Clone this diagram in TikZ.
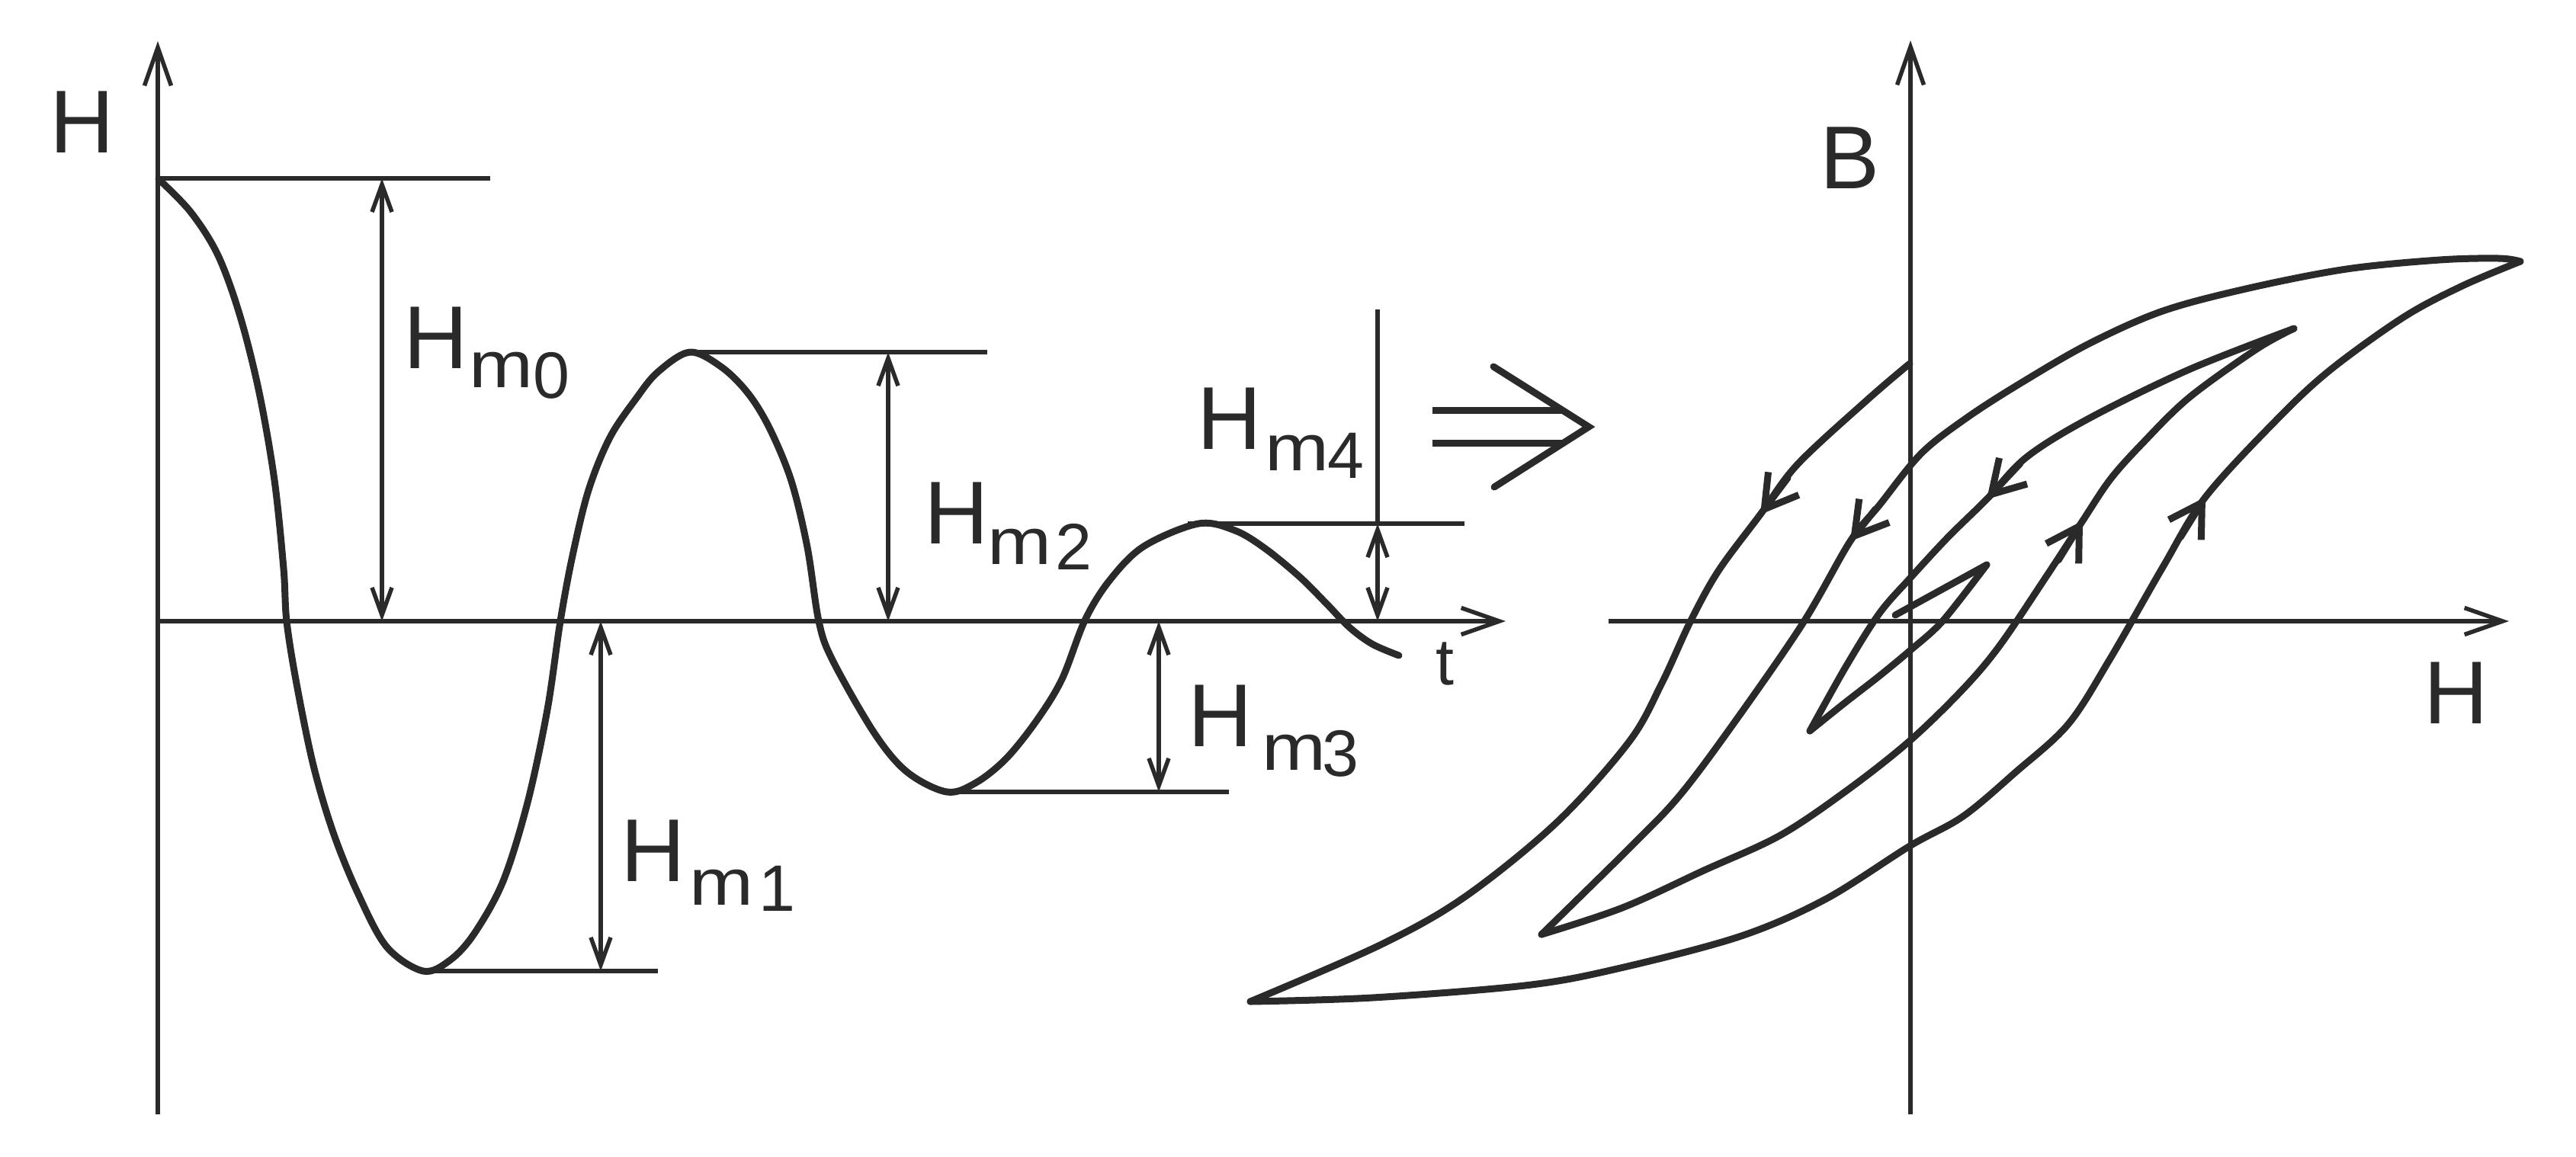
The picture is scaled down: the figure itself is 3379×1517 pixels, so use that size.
\documentclass[tikz,border=0pt]{standalone}
\usepackage{fontspec}
\setmainfont{Liberation Sans}
\usetikzlibrary{arrows.meta}
\definecolor{ink}{HTML}{2A2A2A}
\tikzset{
  thinln/.style={line width=0.055cm, draw=ink},
  curveln/.style={line width=0.09cm, draw=ink, line cap=round, line join=round},
  axisarrow/.style={thinln, -{Straight Barb[length=0.5cm,width=0.35cm]}},
  dimarrow/.style={thinln, {Straight Barb[length=0.36cm,width=0.26cm]}-{Straight Barb[length=0.36cm,width=0.26cm]}},
  hyarrow/.style={curveln, -{Straight Barb[length=0.42cm,width=0.5cm]}},
  bigtxt/.style={inner sep=0pt, outer sep=0pt, anchor=base west, text=ink, font=\fontsize{33.3pt}{36pt}\selectfont},
  subtxt/.style={inner sep=0pt, outer sep=0pt, anchor=base west, text=ink, font=\fontsize{24.5pt}{27pt}\selectfont},
}
\newcommand{\wm}{\scalebox{1.17}[1]{m}}
\begin{document}
\begin{tikzpicture}[x=0.01cm, y=-0.01cm]
\useasboundingbox (0,0) rectangle (3379,1517);

% ---------- left diagram: H(t) ----------
\coordinate (LyB) at (207,1462);
\coordinate (LyT) at (207,54);
\coordinate (LxL) at (207,815);
\coordinate (LxR) at (1975,815);
\draw[axisarrow] (LyB) -- (LyT);
\draw[axisarrow] (LxL) -- (LxR);

% reference lines
\coordinate (P0) at (207,234);   \coordinate (P0e) at (643,234);
\coordinate (P1) at (555,1274);  \coordinate (P1e) at (863,1274);
\coordinate (P2) at (905,462);   \coordinate (P2e) at (1295,462);
\coordinate (P3) at (1242,1039); \coordinate (P3e) at (1612,1039);
\coordinate (P4) at (1558,687);  \coordinate (P4e) at (1921,687);
\draw[thinln] (P0) -- (P0e);
\draw[thinln] (P1) -- (P1e);
\draw[thinln] (P2) -- (P2e);
\draw[thinln] (P3) -- (P3e);
\draw[thinln] (P4) -- (P4e);

% dimension arrows
\coordinate (D0a) at (501,234);   \coordinate (D0b) at (501,815);
\coordinate (D1a) at (788,815);   \coordinate (D1b) at (788,1274);
\coordinate (D2a) at (1165,462);  \coordinate (D2b) at (1165,815);
\coordinate (D3a) at (1520,815);  \coordinate (D3b) at (1520,1039);
\coordinate (D4t) at (1807,406);
\coordinate (D4a) at (1807,687);  \coordinate (D4b) at (1807,815);
\draw[dimarrow] (D0a) -- (D0b);
\draw[dimarrow] (D1a) -- (D1b);
\draw[dimarrow] (D2a) -- (D2b);
\draw[dimarrow] (D3a) -- (D3b);
\draw[thinln] (D4t) -- (D4a);
\draw[dimarrow] (D4a) -- (D4b);

% damped oscillation
\draw[curveln] plot[smooth, tension=0.55] coordinates {
 (208,235) (250,278) (286,335) (315,415) (340,515) (360,630) (372,746)
 (376,815) (389,897) (411,1004) (437,1092) (469,1171) (507,1242)
 (555,1274) (590,1260) (622,1225) (660,1156) (692,1053) (718,931) (735,815)
 (751,729) (772,643) (800,574) (835,522) (863,488) (905,462) (947,482)
 (982,517) (1010,563) (1038,631) (1059,718) (1074,815) (1092,866)
 (1147,962) (1190,1013) (1242,1039) (1280,1027) (1320,995) (1360,945)
 (1393,891) (1423,814) (1455,762) (1500,717) (1572,687) (1620,696)
 (1660,720) (1705,757) (1740,792) (1770,823) (1800,845) (1835,860)};

% labels
\node[bigtxt] (lH) at (65,200) {H};
\node[subtxt] (lt) at (1883,898) {t};
\node[bigtxt] (h0H) at (529,483) {H};
\node[subtxt] (h0m) at (615,508) {\wm};
\node[subtxt] (h0d) at (699,522) {0};
\node[bigtxt] (h1H) at (814,1156) {H};
\node[subtxt] (h1m) at (904,1187) {\wm};
\node[subtxt] (h1d) at (995,1195) {1};
\node[bigtxt] (h2H) at (1212,713) {H};
\node[subtxt] (h2m) at (1295,740) {\wm};
\node[subtxt] (h2d) at (1384,747) {2};
\node[bigtxt] (h3H) at (1558,979) {H};
\node[subtxt] (h3m) at (1655,1010) {\wm};
\node[subtxt] (h3d) at (1734,1018) {3};
\node[bigtxt] (h4H) at (1570,589) {H};
\node[subtxt] (h4m) at (1659,617) {\wm};
\node[subtxt] (h4d) at (1741,627) {4};

% implication arrow
\coordinate (I1a) at (1879,538); \coordinate (I1b) at (2050,538);
\coordinate (I2a) at (1879,581); \coordinate (I2b) at (2050,581);
\coordinate (Ic1) at (1959,481); \coordinate (Ict) at (2084,560); \coordinate (Ic2) at (1960,639);
\draw[curveln, line cap=butt] (I1a) -- (I1b);
\draw[curveln, line cap=butt] (I2a) -- (I2b);
\draw[curveln, line join=miter] (Ic1) -- (Ict) -- (Ic2);

% ---------- right diagram: B(H) ----------
\coordinate (RyB) at (2506,1462);
\coordinate (RyT) at (2506,53);
\coordinate (RxL) at (2110,815);
\coordinate (RxR) at (3291,815);
\draw[axisarrow] (RyB) -- (RyT);
\draw[axisarrow] (RxL) -- (RxR);
\node[bigtxt] (lB) at (2387,247) {B};
\node[bigtxt] (rH) at (3179,949) {H};

% segment A: start on B axis to outer lower-left tip
\draw[curveln] plot[smooth, tension=0.55] coordinates {
 (2505,477) (2450,524) (2358,609) (2309,675) (2254,749) (2217,816) (2180,896)
 (2137,973) (2042,1079) (1921,1177) (1810,1240) (1640,1314)};
% segment B: outer lower branch to upper-right tip
\draw[curveln] plot[smooth, tension=0.55] coordinates {
 (1640,1314) (1800,1309) (2000,1293) (2117,1272) (2281,1229)
 (2394,1180) (2505,1110) (2575,1071) (2644,1013) (2713,950) (2768,864)
 (2837,744) (2893,652) (2988,549) (3057,485) (3153,416)
 (3230,375) (3306,343)};
% segment C: outer upper branch to middle lower-left tip
\draw[curveln] plot[smooth, tension=0.55] coordinates {
 (3306,343) (3278,339) (3200,341) (3078,353) (2950,378) (2837,408) (2740,451)
 (2650,503) (2580,548) (2520,595) (2465,663) (2427,710) (2364,819)
 (2272,952) (2203,1044) (2140,1110) (2022,1226)};
% segment D: middle lower branch to middle upper tip
\draw[curveln] plot[smooth, tension=0.55] coordinates {
 (2022,1226) (2128,1191) (2235,1142) (2335,1096) (2424,1036) (2505,972)
 (2575,904) (2623,847) (2685,755) (2732,683) (2768,629) (2809,583)
 (2871,522) (2960,458) (3009,431)};
% segment E: middle upper branch to inner lower-left tip
\draw[curveln] plot[smooth, tension=0.55] coordinates {
 (3009,431) (2871,485) (2740,549) (2658,600) (2606,655)
 (2555,705) (2506,758) (2465,805) (2421,875) (2374,959)};
% segment F and G: inner loop
\draw[curveln] plot[smooth, tension=0.5] coordinates {
 (2374,959) (2420,922) (2465,887) (2506,853) (2548,815) (2606,741)};
\coordinate (Gt) at (2606,741); \coordinate (Ge) at (2486,807);
\draw[curveln] (Gt) -- (Ge);

% direction arrows
\coordinate (A1s) at (2345,627); \coordinate (A1t) at (2309,675);
\coordinate (A2s) at (2460,668); \coordinate (A2t) at (2427,710);
\coordinate (A3s) at (2650,608); \coordinate (A3t) at (2606,655);
\coordinate (A4s) at (2700,735); \coordinate (A4t) at (2732,683);
\coordinate (A5s) at (2860,705); \coordinate (A5t) at (2893,652);
\draw[hyarrow] (A1s) -- (A1t);
\draw[hyarrow] (A2s) -- (A2t);
\draw[hyarrow] (A3s) -- (A3t);
\draw[hyarrow] (A4s) -- (A4t);
\draw[hyarrow] (A5s) -- (A5t);
\end{tikzpicture}
\end{document}
